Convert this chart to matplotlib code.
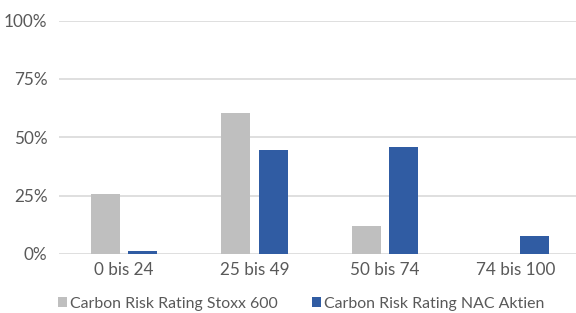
import numpy as np
import matplotlib
matplotlib.use('Agg')
import matplotlib.pyplot as plt
from matplotlib.ticker import PercentFormatter

plt.rcParams['font.family'] = ['Lato', 'DejaVu Sans']

kategorien = ['0 bis 24', '25 bis 49', '50 bis 74', '74 bis 100']
stoxx = [25.8, 60.4, 12.1, 0.0]
nac = [1.2, 44.4, 45.8, 7.6]
serien = ['Carbon Risk Rating Stoxx 600', 'Carbon Risk Rating NAC Aktien']

grau = '#BFBFBF'
blau = '#305CA3'
text_farbe = '#595959'

fig = plt.figure(figsize=(5.76, 3.13), dpi=100)
ax = fig.add_axes([0.1017, 0.1885, 0.907, 0.7457])

x = np.arange(len(kategorien))
breite = 0.222
versatz = 0.143

ax.bar(x - versatz, np.array(stoxx) / 100, breite, color=grau, label=serien[0], zorder=3)
ax.bar(x + versatz, np.array(nac) / 100, breite, color=blau, label=serien[1], zorder=3)

ax.set_xlim(-0.5, 3.5)
ax.set_ylim(0, 1)
ax.set_yticks([0, 0.25, 0.5, 0.75, 1.0])
ax.yaxis.set_major_formatter(PercentFormatter(1.0, decimals=0))
ax.set_xticks(x)
ax.set_xticklabels(kategorien)

ax.grid(axis='y', color='#D9D9D9', linewidth=1.2, zorder=0)
for s in ax.spines.values():
    s.set_visible(False)
ax.tick_params(axis='both', length=0, colors=text_farbe, labelsize=12.3)
ax.tick_params(axis='y', pad=8)
ax.tick_params(axis='x', pad=6)

fig.legend(loc='center', bbox_to_anchor=(0.523, 0.03), ncol=2, frameon=False,
           fontsize=11.4, labelcolor=text_farbe, handlelength=0.55, handleheight=0.55,
           handletextpad=0.2, columnspacing=2.2, borderaxespad=0)

fig.savefig('out.png', dpi=100)
